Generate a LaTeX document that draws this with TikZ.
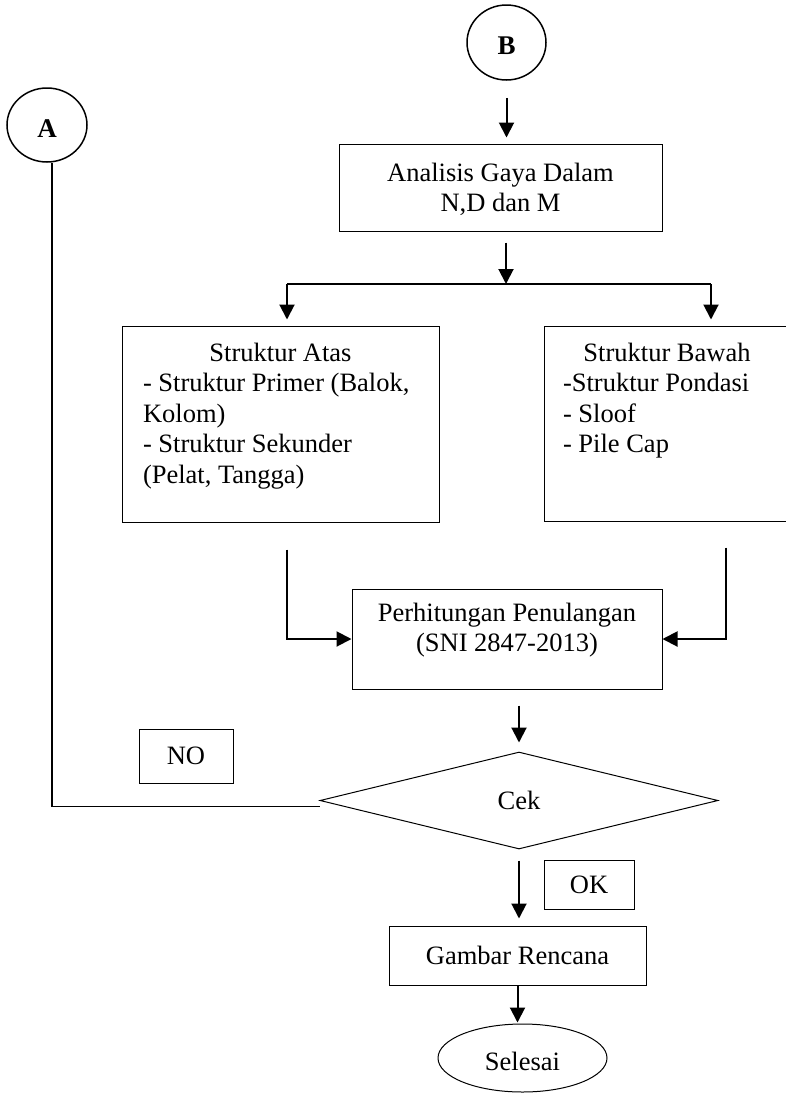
\documentclass[tikz,border=0pt]{standalone}
\usepackage{fontspec}
\setmainfont{Liberation Serif}
\usetikzlibrary{arrows.meta,shapes.geometric}
% fixed-height text block: height, width, alignment, top skip, content
\newcommand\flowtext[5]{\parbox[c][#1][t]{#2}{#3\vspace*{#4}\strut #5}}
% letter set slightly below the centre of its circle
\newcommand\lowered[1]{\raisebox{-3.5pt}[\height][0pt]{#1}}
\begin{document}
\begin{tikzpicture}[x=1pt,y=-1pt,
  every node/.style={font=\fontsize{26.5}{30.5}\selectfont, inner sep=0pt},
  box/.style={draw, line width=1pt},
  conn/.style={draw, ellipse, line width=1.5pt, font=\fontsize{27}{30}\selectfont\bfseries},
  arr/.style={line width=2pt, -{Triangle[length=15pt,width=15pt]}},
  link/.style={line width=2pt}]
\useasboundingbox (0,0) rectangle (785,1093);

% connectors to other pages
\node[conn, minimum width=79pt, minimum height=75pt] (B) at (506.5,42.5) {\lowered{B}};
\node[conn, minimum width=80pt, minimum height=74pt] (A) at (47,125) {\lowered{A}};

% process boxes
\node[box, minimum width=323pt] (ana) at (500.5,187.5)
  {\flowtext{87pt}{323pt}{\centering}{16pt}{Analisis Gaya Dalam\\N,D dan M}};
\node[box, minimum width=317pt] (atas) at (280.5,424)
  {\flowtext{196pt}{275pt}{\raggedright}{14pt}{\makebox[\linewidth]{Struktur Atas}\\
   - Struktur Primer (Balok,\\ Kolom)\\ - Struktur Sekunder\\ (Pelat, Tangga)}};
\node[box, minimum width=246pt] (bawah) at (667,423.5)
  {\flowtext{195pt}{208pt}{\raggedright}{14pt}{\makebox[\linewidth]{Struktur Bawah}\\
   -Struktur Pondasi\\ - Sloof\\ - Pile Cap}};
\node[box, minimum width=310pt] (perh) at (507,639)
  {\flowtext{100pt}{310pt}{\centering}{11pt}{Perhitungan Penulangan\\(SNI 2847-2013)}};
\node[box, diamond, minimum width=398pt, minimum height=97pt] (cek) at (519,800.5) {Cek};
\node[box, minimum width=94pt, minimum height=54pt] (no) at (186,756) {NO};
\node[box, minimum width=90pt, minimum height=49pt] (ok) at (589,884.5) {OK};
\node[box, minimum width=257pt, minimum height=59pt] (gbr) at (517.5,955.5) {Gambar Rencana};
\node[box, ellipse, minimum width=169pt, minimum height=68pt] (end) at (522.5,1058) {\lowered{Selesai}};

% junction points
\coordinate (jm) at (506,284);
\coordinate (jl) at (287,284);
\coordinate (jr) at (711,284);
\coordinate (rl) at (726,641);

% flow lines
\draw[arr, shorten <=17pt, shorten >=6pt] (B.south) -- (B.south |- ana.north);
\draw[arr, shorten <=11pt] (jm |- ana.south) -- (jm);
\draw[link] (jl) -- (jr);
\draw[arr, shorten >=6pt] (jl) -- (jl |- atas.north);
\draw[arr, shorten >=6pt] (jr) -- (jr |- bawah.north);
\draw[arr, shorten <=27pt] (jl |- atas.south) |- (perh.west);
\draw[arr, shorten <=26pt] (rl |- bawah.south) |- (perh.east);
\draw[arr, shorten <=16pt, shorten >=9pt] (cek.north |- perh.south) -- (cek.north);
\draw[arr, shorten <=11pt, shorten >=7pt] (cek.south) -- (cek.south |- gbr.north);
\draw[arr, shorten >=1pt] (gbr.south) -- (gbr.south |- end.north);
\draw[line width=1.5pt] ([xshift=5pt]A.south) |- ([yshift=-6pt]cek.west);
\end{tikzpicture}
\end{document}
